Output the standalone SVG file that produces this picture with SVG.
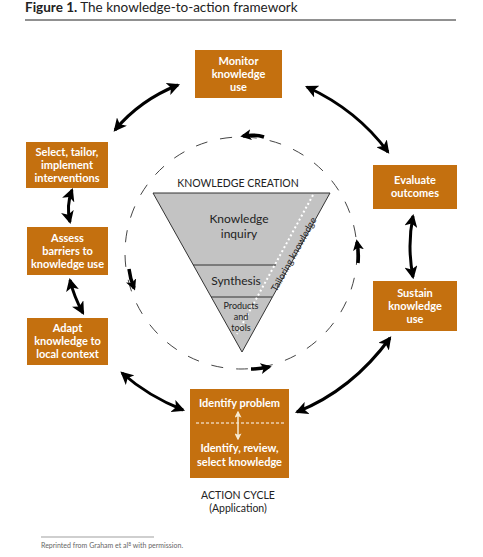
<svg xmlns="http://www.w3.org/2000/svg" width="483" height="557" viewBox="0 0 483 557">
<defs>
<marker id="ah" viewBox="0 0 12 12" markerUnits="userSpaceOnUse" markerWidth="13" markerHeight="13" refX="10" refY="6" orient="auto-start-reverse">
<path d="M0,0 L12,6 L0,12 L3,6 z" fill="#000"/>
</marker>
<marker id="sh" viewBox="0 0 12 12" markerUnits="userSpaceOnUse" markerWidth="11" markerHeight="11" refX="9" refY="6" orient="auto">
<path d="M0,0 L12,6 L0,12 L3,6 z" fill="#000"/>
</marker>
<marker id="wh" viewBox="0 0 10 10" markerUnits="userSpaceOnUse" markerWidth="7" markerHeight="7" refX="8" refY="5" orient="auto-start-reverse">
<path d="M0,0 L10,5 L0,10 L2,5 z" fill="#f6ead2"/>
</marker>
</defs>
<style>
.box{fill:#C4700F}
.bt{font-family:Lato,"Liberation Sans",sans-serif;font-size:11px;font-weight:bold;fill:#fff;text-anchor:middle}
.big{fill:none;stroke:#000;stroke-width:3;marker-start:url(#ah);marker-end:url(#ah)}
.small{fill:none;stroke:#000;stroke-width:3.5;marker-end:url(#sh)}
.lbl{font-family:Lato,"Liberation Sans",sans-serif;fill:#222;text-anchor:middle}
</style>
<rect width="483" height="557" fill="#fff"/>
<text x="25" y="12" font-family="Lato,'Liberation Sans',sans-serif" font-size="13.5" fill="#222"><tspan font-weight="bold">Figure 1.</tspan> The knowledge-to-action framework</text>
<line x1="25" y1="20" x2="456" y2="20" stroke="#222" stroke-width="1"/>

<g id="cycle-circle">
<circle cx="241" cy="253" r="116" fill="none" stroke="#444" stroke-width="1" stroke-dasharray="12 13"/>
</g>

<g id="knowledge-creation">
<text class="lbl" x="238" y="187" font-size="10.5">KNOWLEDGE CREATION</text>
<polygon points="153,193 330,193 242,352" fill="#C3C3C3" stroke="#333" stroke-width="1"/>
<line x1="193" y1="265" x2="276" y2="265" stroke="#333" stroke-width="1"/>
<line x1="211" y1="297" x2="272" y2="297" stroke="#333" stroke-width="1"/>
<line x1="313" y1="195" x2="237" y2="334" stroke="#fff" stroke-width="2" stroke-dasharray="2 2.5"/>
<text class="lbl" x="239" y="223" font-size="12" fill="#333">Knowledge</text>
<text class="lbl" x="239" y="238" font-size="12" fill="#333">inquiry</text>
<text class="lbl" x="236" y="285" font-size="12" fill="#333">Synthesis</text>
<text class="lbl" x="241" y="309" font-size="9" fill="#333">Products</text>
<text class="lbl" x="241" y="320" font-size="9" fill="#333">and</text>
<text class="lbl" x="241" y="331" font-size="9" fill="#333">tools</text>
<text class="lbl" x="0" y="0" font-size="9.5" fill="#333" transform="translate(296.5,256) rotate(-61)">Tailoring knowledge</text>
</g>

<g id="monitor">
<rect class="box" x="195" y="50" width="87" height="48"/>
<text class="bt" x="238.5" y="65">Monitor</text>
<text class="bt" x="238.5" y="78">knowledge</text>
<text class="bt" x="238.5" y="91">use</text>
</g>
<g id="select">
<rect class="box" x="26" y="142" width="82" height="46"/>
<text class="bt" x="67" y="156">Select, tailor,</text>
<text class="bt" x="67" y="169">implement</text>
<text class="bt" x="67" y="182">interventions</text>
</g>
<g id="assess">
<rect class="box" x="27" y="227" width="81" height="48"/>
<text class="bt" x="67.5" y="242">Assess</text>
<text class="bt" x="67.5" y="255">barriers to</text>
<text class="bt" x="67.5" y="268">knowledge use</text>
</g>
<g id="adapt">
<rect class="box" x="27" y="318" width="81" height="47"/>
<text class="bt" x="67.5" y="332">Adapt</text>
<text class="bt" x="67.5" y="345">knowledge to</text>
<text class="bt" x="67.5" y="358">local context</text>
</g>
<g id="evaluate">
<rect class="box" x="373" y="165" width="84" height="44"/>
<text class="bt" x="415" y="184">Evaluate</text>
<text class="bt" x="415" y="197">outcomes</text>
</g>
<g id="sustain">
<rect class="box" x="373" y="281" width="84" height="50"/>
<text class="bt" x="415" y="297">Sustain</text>
<text class="bt" x="415" y="310">knowledge</text>
<text class="bt" x="415" y="323">use</text>
</g>
<g id="identify">
<rect class="box" x="190" y="389" width="99" height="89"/>
<text class="bt" x="239.5" y="407">Identify problem</text>
<line x1="196" y1="423" x2="284" y2="423" stroke="#fff" stroke-width="1" stroke-dasharray="3 2"/>
<path d="M238,412 L238,439" stroke="#f6ead2" stroke-width="1.5" marker-start="url(#wh)" marker-end="url(#wh)"/>
<text class="bt" x="239.5" y="452">Identify, review,</text>
<text class="bt" x="239.5" y="466">select knowledge</text>
</g>
<g id="action-cycle-label">
<text class="lbl" x="238" y="499" font-size="10.5">ACTION CYCLE</text>
<text class="lbl" x="238" y="512" font-size="10.5">(Application)</text>
</g>

<g id="connectors">
<path class="big" d="M115,130 Q140,100 178,85"/>
<path class="big" d="M307,87 Q357,110 388,152"/>
<path class="big" d="M72,190 Q66,206 70,222"/>
<path class="big" d="M70,280 Q74,297 83,313"/>
<path class="big" d="M122,373 Q148,396 183,410"/>
<path class="big" d="M297,412 Q352,390 390,338"/>
<path class="big" d="M413,216 Q407,246 413,277"/>
<path class="small" d="M264,137 Q255,134 243,136"/>
<path class="small" d="M129,269 Q130,278 134,288"/>
<path class="small" d="M251,369 Q259,369 269,367"/>
<path class="small" d="M358,263 Q359,253 357,242"/>
</g>

<g id="footer">
<line x1="41" y1="537" x2="154" y2="537" stroke="#777" stroke-width="0.7"/>
<text x="41" y="548" font-family="Lato,'Liberation Sans',sans-serif" font-size="7" fill="#666">Reprinted from Graham et al<tspan font-size="5" dy="-2.5">8</tspan><tspan dy="2.5"> with permission.</tspan></text>
</g>
</svg>
